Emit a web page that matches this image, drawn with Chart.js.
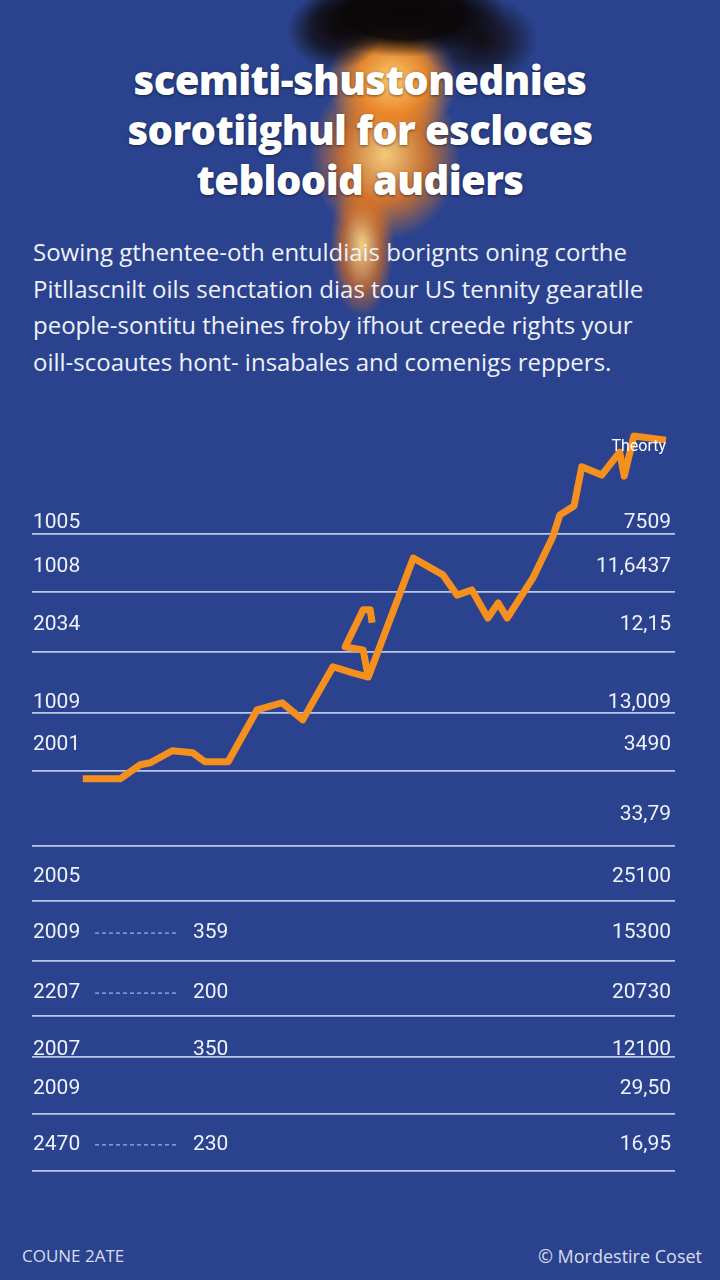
<!DOCTYPE html>
<html>
<head>
<meta charset="utf-8">
<script src="https://cdn.jsdelivr.net/npm/chart.js@4.4.1/dist/chart.umd.min.js"></script>
<style>
  html, body { margin: 0; padding: 0; }
  body {
    width: 720px; height: 1280px; overflow: hidden; position: relative;
    background: #2b438e;
    font-family: "Open Sans", "Noto Sans", sans-serif;
    color: #fff;
  }
  #fire {
    position: absolute; left: 0; top: 0; width: 720px; height: 320px;
    background:
      radial-gradient(ellipse 100px 45px at 405px 12px, rgba(10,6,5,1), rgba(10,6,5,0.92) 60%, rgba(10,6,5,0) 100%),
      radial-gradient(ellipse 48px 40px at 335px 30px, rgba(15,8,6,0.92), rgba(15,8,6,0.7) 50%, rgba(15,8,6,0) 100%),
      radial-gradient(ellipse 58px 45px at 480px 40px, rgba(15,8,6,0.9), rgba(15,8,6,0.6) 50%, rgba(15,8,6,0) 100%),
      radial-gradient(ellipse 65px 62px at 392px 80px, rgba(255,205,110,1), rgba(235,135,40,0.95) 55%, rgba(120,50,20,0) 100%),
      radial-gradient(ellipse 75px 85px at 385px 155px, rgba(255,210,120,0.95), rgba(225,120,35,0.85) 55%, rgba(120,50,20,0) 100%),
      radial-gradient(ellipse 32px 72px at 362px 245px, rgba(255,215,130,0.95), rgba(220,110,30,0.7) 60%, rgba(220,110,30,0) 100%);
  }
  #title {
    position: absolute; left: 0; top: 55px; width: 720px; text-align: center;
    font-size: 40px; line-height: 50px; font-weight: 800; letter-spacing: -0.6px;
    text-shadow: 0 1px 3px rgba(0,0,0,0.5);
  }
  #sub {
    position: absolute; left: 33px; top: 234px; width: 690px;
    font-size: 24px; line-height: 36.5px; color: #eef1f8; white-space: nowrap;
  }
  #chart-box { position: absolute; left: 0; top: 420px; width: 720px; height: 770px; }
  .foot { position: absolute; top: 1244px; color: #d6ddee; font-size: 17px; }
  #foot-l { left: 22px; }
  #foot-r { right: 18px; font-size: 18px; }
</style>
</head>
<body>
<div id="fire"></div>
<div id="title">scemiti-shustonednies<br>sorotiighul for escloces<br>teblooid audiers</div>
<div id="sub">Sowing gthentee-oth entuldiais borignts oning corthe<br>Pitllascnilt oils senctation dias tour US tennity gearatlle<br>people-sontitu theines froby ifhout creede rights your<br>oill-scoautes hont- insabales and comenigs reppers.</div>
<div id="chart-box"><canvas id="chart"></canvas></div>
<div class="foot" id="foot-l">COUNE 2ATE</div>
<div class="foot" id="foot-r">© Mordestire Coset</div>
<script>
// trend line (x = period index, y = level index)
const trendLabel = "Theorty";
const trendX = [7.9, 13.7, 16.8, 18.4, 21.8, 25.0, 26.9, 30.5, 35.0, 38.9, 42.1, 46.8, 49.9, 52.3,
                59.3, 63.9, 66.1, 68.4, 70.9, 72.5, 73.9, 77.9, 81.0, 82.1, 84.3, 85.5, 88.6, 91.4, 92.1, 93.6, 98.6];
const trendY = [0, 0, 4.1, 4.7, 8.2, 7.6, 5.0, 5.0, 20.1, 22.2, 17.2, 32.7, 30.9, 29.7,
                64.4, 59.5, 53.6, 55.1, 46.9, 51.3, 46.9, 58.6, 70.6, 77.0, 79.6, 91.0, 88.6, 95.3, 88.3, 100, 98.8];
// little spur branching off the line
const spurX = [52.3, 51.5, 48.7, 51.5, 52.6, 52.9];
const spurY = [29.7, 37.6, 38.5, 49.3, 49.3, 45.5];

// table rows (row positions on the table axis)
const rowLines = [1.80, 2.81, 3.85, 4.91, 5.91, 7.21, 8.16, 9.20, 10.16, 10.87, 11.86, 12.84];
const rowText  = [1.61, 2.37, 3.38, 4.73, 5.46, 6.67, 7.75, 8.72, 9.76, 10.75, 11.42, 12.39];
const rowYears = ["1005", "1008", "2034", "1009", "2001", "", "2005", "2009", "2207", "2007", "2009", "2470"];
const rowMid   = ["", "", "", "", "", "", "", "359", "200", "350", "", "230"];
const rowVals  = ["7509", "11,6437", "12,15", "13,009", "3490", "33,79", "25100", "15300", "20730", "12100", "29,50", "16,95"];
const leaderRows = [7, 8, 11];

const toPoints = (xs, ys) => xs.map((x, i) => ({ x: x, y: ys[i] }));

const tableText = {
  id: 'tableText',
  afterDraw(chart) {
    const c = chart.ctx;
    const area = chart.chartArea;
    const yt = chart.scales.yt;
    c.save();
    c.font = '21px Roboto, "Liberation Sans", sans-serif';
    c.fillStyle = '#eef1f8';
    c.textBaseline = 'middle';
    rowText.forEach((v, i) => {
      const py = yt.getPixelForValue(v);
      c.textAlign = 'left';
      c.fillText(rowYears[i], area.left + 1, py);
      c.fillText(rowMid[i], area.left + 161, py);
      c.textAlign = 'right';
      c.fillText(rowVals[i], area.right - 4, py);
    });
    c.strokeStyle = 'rgba(170,190,240,0.9)';
    c.lineWidth = 1.2;
    c.setLineDash([4, 3]);
    leaderRows.forEach(i => {
      const py = yt.getPixelForValue(rowText[i]);
      c.beginPath();
      c.moveTo(area.left + 63, py);
      c.lineTo(area.left + 146, py);
      c.stroke();
    });
    c.setLineDash([]);
    // series label near the end of the line
    const meta = chart.getDatasetMeta(0);
    const last = meta.data[meta.data.length - 1];
    c.font = '16px Roboto, sans-serif';
    c.fillStyle = '#ffffff';
    c.textAlign = 'right';
    c.fillText(trendLabel, last.x, last.y + 7);
    c.restore();
  }
};

new Chart(document.getElementById('chart'), {
  type: 'line',
  data: {
    datasets: [
      { label: trendLabel, data: toPoints(trendX, trendY), borderColor: '#f5901e', borderWidth: 7,
        pointRadius: 0, tension: 0, fill: false, borderJoinStyle: 'round', yAxisID: 'y' },
      { label: 'spur', data: toPoints(spurX, spurY), borderColor: '#f5901e', borderWidth: 7,
        pointRadius: 0, tension: 0, fill: false, borderJoinStyle: 'round', yAxisID: 'y' }
    ]
  },
  options: {
    responsive: true,
    maintainAspectRatio: false,
    animation: false,
    layout: { padding: { left: 32, right: 45, top: 10, bottom: 10 } },
    plugins: { legend: { display: false }, tooltip: { enabled: false } },
    scales: {
      x: { type: 'linear', min: 0, max: 100, display: false },
      y: { type: 'linear', min: -117, max: 101.75, display: false },
      yt: {
        type: 'linear', position: 'left', reverse: true, min: 0, max: 13,
        afterBuildTicks: (scale) => { scale.ticks = rowLines.map(v => ({ value: v })); },
        ticks: { display: false },
        border: { display: false },
        grid: { color: 'rgba(212,222,248,0.85)', lineWidth: 1.8, drawTicks: false }
      }
    }
  },
  plugins: [tableText]
});
</script>
</body>
</html>
